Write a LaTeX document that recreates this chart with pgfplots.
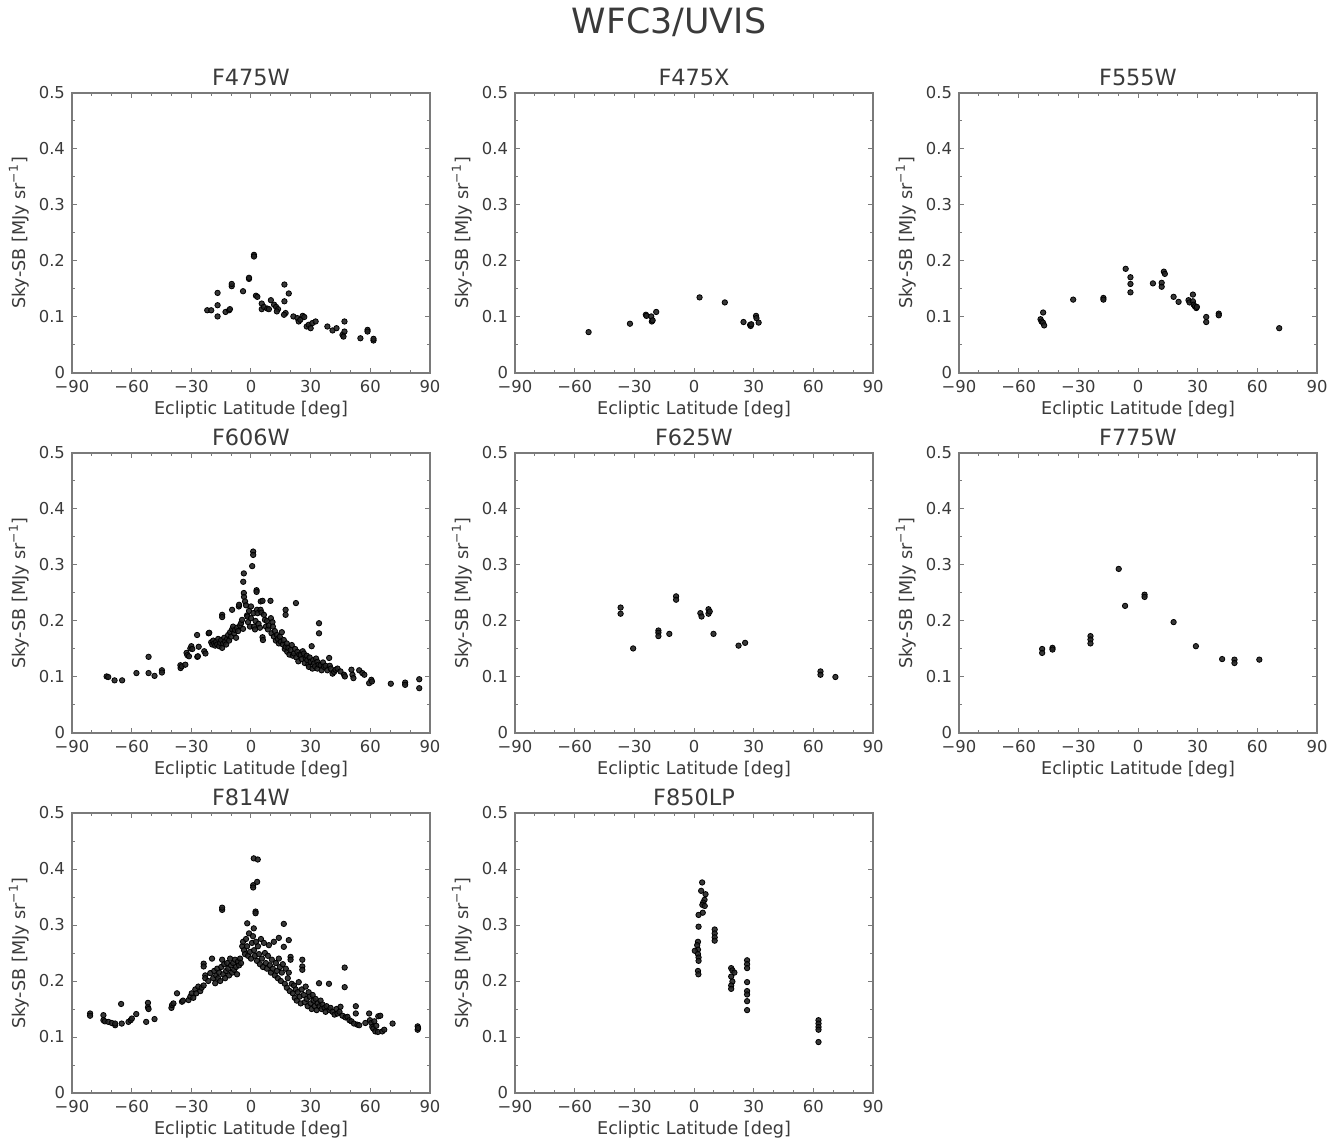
\documentclass[border=0pt]{standalone}
\usepackage{fontspec}
\setmainfont{DejaVu Sans}
\usepackage{pgfplots}
\pgfplotsset{compat=1.18}
\definecolor{textgray}{HTML}{3A3A3A}
\definecolor{axisgray}{HTML}{7A7A7A}
\definecolor{ptcol}{HTML}{222222}
\pgfplotsset{
 panel/.style={
  scale only axis, width=179pt, height=140pt,
  anchor=south west,
  xmin=-90,xmax=90,ymin=0,ymax=0.5,
  xtick={-90,-60,-30,0,30,60,90},
  xticklabels={−90,−60,−30,0,30,60,90},
  ytick={0,0.1,0.2,0.3,0.4,0.5},
  yticklabels={0,0.1,0.2,0.3,0.4,0.5},
  minor xtick={-80,-70,-50,-40,-20,-10,10,20,40,50,70,80},
  minor ytick={0.05,0.15,0.25,0.35,0.45},
  tick align=inside,
  major tick length=2.6pt, minor tick length=1.5pt,
  axis line style={draw=axisgray, line width=0.6pt},
  every tick/.style={draw=axisgray, line width=0.5pt},
  tick label style={font=\fontsize{8.2}{9}\selectfont, text=textgray},
  label style={font=\fontsize{8.8}{10}\selectfont, text=textgray},
  title style={font=\fontsize{11.2}{12}\selectfont, text=textgray, yshift=-6pt},
  xlabel style={yshift=2.5pt},
  ylabel style={yshift=-2pt},
  xlabel={Ecliptic Latitude [deg]},
  ylabel={Sky-SB [MJy sr\textsuperscript{−1}]},
 },
 pts/.style={only marks, mark=*, mark size=1.35pt, mark options={draw=none, fill=ptcol, fill opacity=0.9}},
}
\begin{document}
\begin{tikzpicture}
\path[use as bounding box] (0,0) rectangle (671pt,570pt);
\node[font=\fontsize{17.4}{20}\selectfont, text=textgray] at (334.5pt,559pt) {WFC3/UVIS};

% F475W
\begin{axis}[panel, at={(36pt,383.5pt)}, title={F475W}]
\addplot[pts] table {
x y
-22.0 0.112
-20.0 0.112
-16.8 0.143
-16.8 0.121
-16.8 0.101
-12.8 0.109
-11.0 0.112
-10.6 0.114
-9.7 0.155
-9.7 0.159
-4.0 0.146
-1.0 0.168
-1.0 0.170
1.5 0.211
1.5 0.208
2.5 0.138
3.2 0.136
5.4 0.124
5.4 0.114
6.5 0.118
8.2 0.115
9.0 0.114
10.0 0.130
11.6 0.122
12.6 0.118
13.6 0.114
13.0 0.110
16.8 0.158
16.8 0.128
17.4 0.107
16.6 0.104
19.0 0.142
21.3 0.101
23.3 0.098
24.0 0.092
24.8 0.095
26.0 0.102
26.8 0.100
28.0 0.083
29.0 0.086
30.0 0.080
30.8 0.089
32.5 0.092
38.4 0.083
41.0 0.076
43.0 0.080
46.0 0.068
47.0 0.074
47.0 0.092
46.5 0.065
55.0 0.062
58.6 0.077
58.6 0.074
61.6 0.058
61.6 0.061
};
\end{axis}

% F475X
\begin{axis}[panel, at={(257.5pt,383.5pt)}, title={F475X}]
\addplot[pts] table {
x y
-53.0 0.073
-32.2 0.088
-24.2 0.104
-23.9 0.102
-21.5 0.101
-21.2 0.092
-20.8 0.094
-19.0 0.109
2.8 0.135
15.5 0.126
24.9 0.091
28.2 0.086
28.5 0.084
28.8 0.087
31.2 0.102
31.4 0.098
32.5 0.090
};
\end{axis}

% F555W
\begin{axis}[panel, at={(479.5pt,383.5pt)}, title={F555W}]
\addplot[pts] table {
x y
-47.7 0.108
-49.0 0.096
-48.5 0.092
-47.8 0.090
-47.2 0.085
-32.6 0.131
-17.4 0.134
-17.4 0.131
-6.2 0.186
-3.8 0.171
-3.8 0.159
-3.8 0.144
7.5 0.160
11.9 0.161
11.9 0.154
13.0 0.181
13.5 0.177
17.9 0.136
20.4 0.127
25.4 0.130
25.9 0.126
27.6 0.140
27.6 0.128
28.0 0.122
28.6 0.119
29.3 0.116
29.6 0.118
34.3 0.100
34.3 0.091
40.6 0.106
40.6 0.103
71.0 0.080
};
\end{axis}

% F606W
\begin{axis}[panel, at={(36pt,203.5pt)}, title={F606W}]
\addplot[pts] table {
x y
-72.6 0.101
-71.8 0.100
-68.6 0.094
-64.8 0.094
-57.6 0.107
-51.5 0.136
-51.5 0.107
-48.5 0.102
-44.8 0.112
-44.8 0.108
-35.5 0.121
-35.4 0.116
-34.8 0.119
-33.0 0.122
-32.4 0.143
-32.0 0.139
-30.5 0.151
-30.0 0.155
-29.5 0.150
-31.2 0.137
-27.1 0.175
-27.0 0.136
-26.7 0.137
-26.3 0.154
-23.5 0.146
-22.9 0.142
-21.3 0.178
-21.0 0.179
-20.0 0.162
-19.5 0.158
-19.0 0.165
-18.5 0.160
-18.0 0.156
-17.5 0.163
-17.0 0.158
-16.5 0.168
-16.0 0.155
-15.5 0.161
-15.0 0.166
-14.5 0.211
-14.5 0.207
-14.5 0.152
-14.0 0.160
-13.5 0.170
-13.0 0.163
-12.5 0.158
-12.0 0.168
-11.5 0.175
-11.0 0.165
-10.5 0.180
-10.0 0.172
-9.5 0.220
-9.5 0.185
-9.0 0.190
-8.5 0.178
-8.0 0.184
-7.5 0.170
-7.0 0.188
-6.5 0.182
-6.1 0.226
-6.0 0.229
-5.5 0.192
-5.0 0.196
-4.5 0.202
-4.0 0.186
-3.9 0.270
-3.6 0.285
-3.6 0.250
-3.5 0.243
-3.0 0.235
-2.5 0.228
-2.0 0.210
-1.8 0.208
-1.5 0.198
-1.0 0.218
-0.5 0.190
0.0 0.226
0.0 0.205
0.6 0.298
1.1 0.324
1.1 0.318
1.2 0.214
1.5 0.190
2.0 0.185
2.3 0.200
2.8 0.255
2.8 0.252
3.0 0.220
3.3 0.214
3.8 0.195
4.5 0.188
4.8 0.220
4.9 0.235
5.3 0.215
5.8 0.236
5.8 0.171
6.0 0.166
6.5 0.211
7.0 0.202
7.5 0.190
8.0 0.200
8.5 0.185
9.0 0.192
9.8 0.236
10.0 0.205
10.3 0.178
10.8 0.198
11.0 0.190
11.5 0.172
12.0 0.182
12.5 0.165
13.0 0.175
13.5 0.168
14.0 0.160
14.5 0.172
15.0 0.163
15.5 0.180
16.0 0.158
16.5 0.166
17.0 0.150
17.4 0.220
17.4 0.211
17.4 0.154
18.0 0.160
18.2 0.145
18.8 0.152
19.3 0.140
19.9 0.148
20.5 0.157
21.0 0.138
21.6 0.142
22.2 0.150
22.6 0.232
22.8 0.135
23.3 0.145
23.8 0.128
24.3 0.140
25.0 0.139
25.5 0.132
26.0 0.146
26.6 0.142
27.0 0.125
27.5 0.133
28.0 0.138
28.3 0.130
28.8 0.122
29.1 0.118
29.5 0.135
30.0 0.127
30.5 0.155
30.9 0.115
31.2 0.130
31.7 0.124
32.2 0.119
32.7 0.133
33.4 0.127
33.4 0.115
34.0 0.122
34.2 0.196
34.2 0.178
35.0 0.121
35.5 0.112
36.2 0.126
36.7 0.118
37.5 0.120
38.4 0.112
39.3 0.134
39.6 0.120
40.1 0.115
41.0 0.106
41.8 0.109
42.5 0.113
43.5 0.115
45.0 0.110
46.8 0.104
47.2 0.101
50.5 0.113
51.0 0.104
51.5 0.098
54.4 0.112
56.0 0.107
57.0 0.104
59.4 0.089
60.5 0.095
60.8 0.092
70.3 0.088
77.5 0.090
77.5 0.086
84.6 0.096
84.6 0.080
};
\end{axis}

% F625W
\begin{axis}[panel, at={(257.5pt,203.5pt)}, title={F625W}]
\addplot[pts] table {
x y
-36.9 0.224
-36.9 0.213
-30.6 0.151
-17.9 0.183
-17.9 0.179
-17.9 0.173
-12.4 0.177
-9.0 0.244
-9.0 0.238
3.2 0.214
3.8 0.208
7.3 0.221
7.3 0.213
7.9 0.217
9.8 0.177
22.4 0.156
25.7 0.161
63.6 0.110
63.6 0.104
71.1 0.100
};
\end{axis}

% F775W
\begin{axis}[panel, at={(479.5pt,203.5pt)}, title={F775W}]
\addplot[pts] table {
x y
-48.2 0.150
-48.2 0.143
-43.0 0.152
-43.0 0.149
-23.9 0.173
-23.9 0.167
-23.9 0.160
-9.7 0.293
-6.5 0.227
3.3 0.247
3.3 0.243
17.9 0.198
29.1 0.155
42.3 0.132
48.5 0.131
48.5 0.125
61.0 0.131
};
\end{axis}

% F814W
\begin{axis}[panel, at={(36pt,23.5pt)}, title={F814W}]
\addplot[pts] table {
x y
-80.9 0.142
-80.9 0.138
-74.2 0.139
-74.2 0.130
-73.5 0.128
-71.7 0.127
-70.0 0.125
-68.3 0.121
-68.3 0.124
-65.3 0.159
-65.0 0.124
-61.6 0.127
-60.5 0.130
-59.9 0.133
-57.7 0.141
-52.7 0.127
-51.8 0.161
-51.8 0.153
-51.5 0.150
-48.5 0.132
-40.0 0.152
-39.7 0.157
-39.0 0.160
-37.2 0.178
-34.7 0.163
-34.2 0.165
-31.4 0.166
-30.5 0.172
-29.8 0.178
-29.0 0.170
-28.0 0.185
-27.5 0.178
-26.5 0.190
-25.5 0.182
-24.8 0.188
-23.8 0.231
-23.8 0.226
-23.8 0.192
-23.0 0.210
-23.0 0.205
-21.5 0.200
-20.5 0.214
-19.6 0.240
-19.0 0.205
-18.5 0.218
-18.0 0.196
-17.5 0.210
-17.0 0.222
-16.5 0.205
-16.0 0.215
-15.5 0.200
-15.0 0.225
-14.5 0.327
-14.5 0.331
-14.5 0.238
-14.0 0.212
-13.5 0.230
-13.0 0.205
-12.5 0.218
-12.0 0.232
-11.5 0.222
-11.0 0.210
-10.5 0.240
-10.0 0.228
-9.5 0.215
-9.0 0.232
-8.5 0.220
-8.0 0.238
-7.5 0.225
-7.0 0.212
-6.5 0.235
-6.0 0.228
-5.5 0.240
-5.0 0.232
-4.4 0.262
-4.0 0.270
-3.5 0.255
-3.0 0.248
-2.5 0.275
-2.0 0.262
-1.9 0.303
-1.5 0.245
-1.0 0.285
-0.5 0.252
0.0 0.240
0.5 0.268
1.0 0.280
1.1 0.371
1.1 0.367
1.4 0.419
1.4 0.294
1.5 0.255
2.0 0.245
2.3 0.324
2.3 0.321
2.5 0.270
3.0 0.236
3.1 0.377
3.4 0.417
3.5 0.262
4.0 0.248
4.5 0.230
5.0 0.275
5.5 0.240
6.0 0.225
6.5 0.268
7.0 0.250
7.5 0.232
8.0 0.222
8.5 0.245
9.0 0.264
9.5 0.228
10.0 0.215
10.5 0.238
11.0 0.222
11.5 0.270
12.0 0.210
12.5 0.232
13.0 0.218
13.5 0.205
14.0 0.277
14.0 0.240
14.5 0.225
15.0 0.200
15.5 0.215
16.0 0.230
16.5 0.302
16.5 0.261
17.0 0.195
17.5 0.222
18.0 0.188
18.5 0.205
19.0 0.273
19.0 0.215
19.5 0.182
19.9 0.243
19.9 0.238
20.5 0.195
21.0 0.178
21.6 0.192
22.0 0.170
22.5 0.185
23.0 0.165
23.5 0.180
24.0 0.198
24.5 0.172
25.0 0.160
25.5 0.185
25.8 0.238
25.8 0.226
25.8 0.220
26.5 0.175
27.0 0.162
27.5 0.190
28.0 0.168
28.5 0.155
29.0 0.180
29.5 0.172
30.0 0.160
30.5 0.150
31.0 0.175
31.5 0.165
32.0 0.155
32.5 0.168
33.0 0.148
33.5 0.160
34.2 0.196
34.5 0.155
35.0 0.165
35.5 0.150
36.0 0.158
37.0 0.152
37.5 0.145
38.0 0.155
39.2 0.195
39.5 0.148
40.0 0.152
41.0 0.145
42.0 0.140
43.0 0.150
43.5 0.142
44.5 0.145
45.0 0.154
46.0 0.138
47.1 0.224
47.1 0.189
47.5 0.135
48.5 0.136
49.5 0.130
50.5 0.128
51.8 0.124
52.7 0.155
52.7 0.142
53.5 0.122
54.4 0.121
57.5 0.125
59.4 0.142
59.8 0.130
60.5 0.125
61.0 0.118
61.5 0.115
62.0 0.128
62.5 0.110
63.0 0.120
63.8 0.109
64.0 0.137
65.0 0.138
66.0 0.110
67.0 0.113
71.2 0.124
83.8 0.119
83.8 0.113
84.0 0.116
};
\end{axis}

% F850LP
\begin{axis}[panel, at={(257.5pt,23.5pt)}, title={F850LP}]
\addplot[pts] table {
x y
4.1 0.376
3.6 0.361
5.8 0.355
5.3 0.345
4.6 0.340
4.2 0.336
5.4 0.334
4.4 0.322
2.3 0.318
2.3 0.297
10.4 0.292
10.4 0.285
10.4 0.278
10.4 0.272
2.0 0.270
1.6 0.264
2.0 0.256
0.4 0.254
2.0 0.248
2.3 0.242
2.3 0.236
2.0 0.218
2.2 0.212
18.7 0.223
19.3 0.219
20.3 0.215
18.7 0.208
19.3 0.199
18.7 0.192
18.7 0.186
26.7 0.237
26.7 0.230
26.7 0.223
26.7 0.198
26.7 0.182
26.7 0.176
26.7 0.164
26.7 0.148
62.6 0.130
62.6 0.124
62.6 0.118
62.6 0.113
62.6 0.091
};
\end{axis}
\end{tikzpicture}
\end{document}
